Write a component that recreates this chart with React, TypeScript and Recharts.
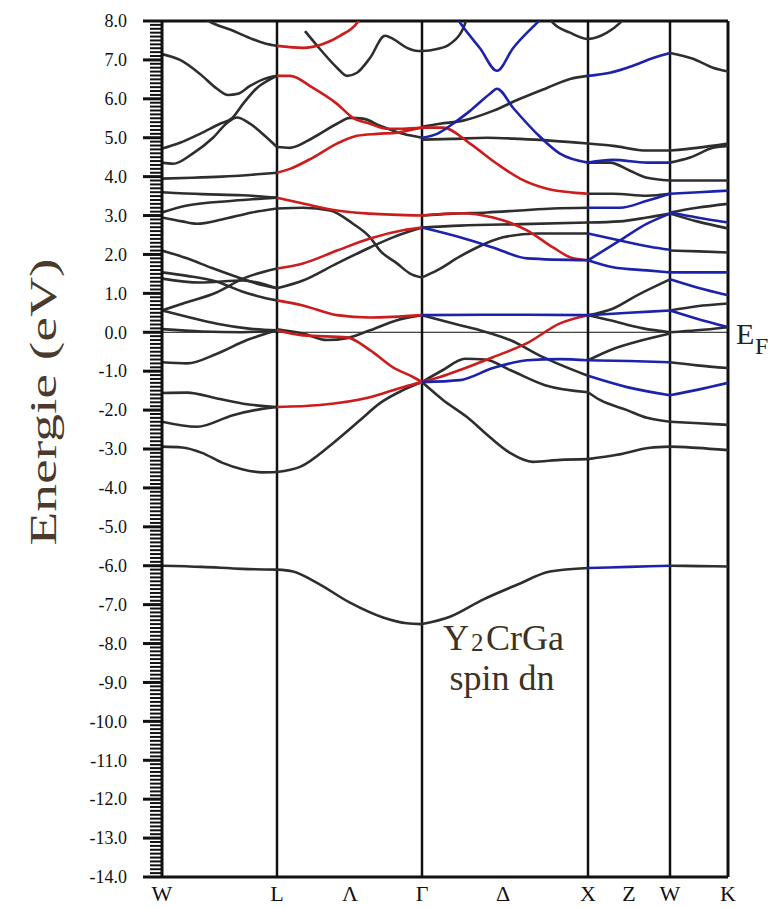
import { LineChart, Line, XAxis, YAxis, ReferenceLine } from 'recharts';

type Path = [number, number][];

// k positions (path length along W-L-Γ-X-W-K)
const symK = [115, 260, 426, 508];
const kTicks = [0, 115, 188, 260, 341, 426, 467, 508, 566];
const kLabels = ['W', 'L', 'Λ', 'Γ', 'Δ', 'X', 'Z', 'W', 'K'];

const eTicks: number[] = [];
for (let i = -140; i <= 80; i++) eTicks.push(i / 10);

// bands as [k, E(eV)]
const blackBands: Path[] = [
  // W -> L
  [[38, 8.15], [48, 7.98], [68, 7.78], [88, 7.56], [103, 7.42], [115, 7.36]],
  [[0, 7.15], [18, 7.0], [38, 6.64], [55, 6.26], [66, 6.1], [76, 6.13], [88, 6.33], [101, 6.5], [115, 6.59]],
  [[0, 4.72], [18, 4.87], [38, 5.1], [58, 5.36], [70, 5.5], [81, 5.87], [95, 6.28], [108, 6.5], [115, 6.59]],
  [[0, 4.36], [11, 4.33], [31, 4.6], [51, 5.0], [65, 5.38], [75, 5.52], [88, 5.36], [105, 5.0], [115, 4.76]],
  [[0, 3.95], [30, 3.97], [60, 4.0], [90, 4.05], [115, 4.1]],
  [[0, 3.6], [40, 3.55], [80, 3.52], [115, 3.46]],
  [[0, 3.08], [25, 3.26], [71, 3.38], [115, 3.46]],
  [[0, 2.95], [20, 2.85], [35, 2.79], [60, 2.9], [90, 3.08], [115, 3.18]],
  [[0, 2.1], [25, 1.9], [50, 1.65], [75, 1.42], [95, 1.25], [115, 1.13]],
  [[0, 1.54], [25, 1.45], [55, 1.3], [80, 1.05], [100, 0.9], [115, 0.82]],
  [[0, 1.38], [38, 1.28], [81, 1.33], [115, 1.13]],
  [[0, 0.56], [21, 0.74], [55, 1.03], [81, 1.38], [115, 1.64]],
  [[0, 0.56], [25, 0.4], [55, 0.22], [85, 0.1], [115, 0.05]],
  [[0, 0.08], [40, 0.02], [80, 0.0], [115, 0.05]],
  [[0, -0.77], [25, -0.8], [55, -0.55], [85, -0.2], [115, 0.05]],
  [[0, -1.56], [25, -1.55], [55, -1.7], [85, -1.85], [115, -1.92]],
  [[0, -2.3], [35, -2.43], [71, -2.13], [105, -1.95], [115, -1.92]],
  [[0, -2.94], [20, -2.96], [40, -3.1], [60, -3.35], [80, -3.52], [100, -3.6], [115, -3.59]],
  [[0, -6.0], [40, -6.03], [80, -6.08], [115, -6.1]],
  // L -> Γ
  [[143, 7.74], [158, 7.28], [175, 6.8], [185, 6.59], [195, 6.67], [208, 7.05], [223, 7.62], [231, 7.54], [245, 7.31], [256, 7.23], [260, 7.23], [275, 7.28], [288, 7.41], [301, 7.8], [306, 8.15]],
  [[115, 4.76], [128, 4.74], [151, 5.0], [175, 5.36], [188, 5.51], [201, 5.49], [218, 5.31], [241, 5.1], [260, 5.0]],
  [[115, 3.18], [141, 3.2], [168, 3.13], [191, 2.79], [208, 2.44], [218, 2.1], [235, 1.77], [248, 1.51], [260, 1.41]],
  [[115, 1.13], [141, 1.33], [175, 1.77], [208, 2.18], [231, 2.44], [260, 2.69]],
  [[115, 0.08], [141, -0.03], [165, -0.2], [185, -0.15], [208, 0.05], [235, 0.31], [260, 0.44]],
  [[115, -3.59], [138, -3.46], [171, -2.85], [198, -2.26], [218, -1.82], [240, -1.5], [260, -1.28]],
  [[115, -6.1], [131, -6.15], [155, -6.44], [188, -6.95], [221, -7.33], [245, -7.48], [260, -7.5]],
  // Γ -> X
  [[260, 5.28], [278, 5.36], [301, 5.44], [331, 5.69], [358, 6.0], [385, 6.28], [408, 6.51], [426, 6.59]],
  [[260, 4.95], [291, 4.97], [325, 5.0], [358, 4.97], [391, 4.92], [426, 4.85]],
  [[260, 3.0], [291, 3.05], [325, 3.08], [358, 3.13], [391, 3.18], [426, 3.2]],
  [[260, 2.69], [298, 2.74], [360, 2.78], [426, 2.82]],
  [[260, 1.41], [275, 1.59], [298, 1.95], [315, 2.18], [341, 2.44], [375, 2.54], [426, 2.54]],
  [[260, 0.44], [280, 0.3], [298, 0.18], [318, 0.05], [348, -0.2], [381, -0.64], [426, -1.12]],
  [[260, -1.28], [281, -0.97], [303, -0.68], [323, -0.7], [348, -0.97], [383, -1.36], [426, -1.54]],
  [[260, -1.28], [281, -1.74], [305, -2.18], [328, -2.7], [348, -3.1], [371, -3.33], [398, -3.28], [426, -3.26]],
  [[260, -7.5], [288, -7.31], [321, -6.87], [355, -6.49], [388, -6.15], [426, -6.06]],
  [[385, 8.15], [391, 7.95], [408, 7.7], [426, 7.54], [445, 7.7], [458, 7.95], [465, 8.15]],
  // X -> W
  [[426, 3.56], [451, 3.56], [485, 3.51], [508, 3.56]],
  [[426, 4.85], [451, 4.79], [485, 4.67], [508, 4.67]],
  [[426, 4.36], [448, 4.36], [468, 4.15], [485, 3.97], [508, 3.9]],
  [[426, 2.82], [458, 2.85], [485, 2.95], [508, 3.05]],
  [[426, 0.44], [450, 0.6], [475, 0.95], [508, 1.36]],
  [[426, 0.44], [448, 0.31], [481, 0.1], [508, 0.0]],
  [[426, -0.72], [448, -0.46], [481, -0.2], [508, -0.03]],
  [[426, -1.54], [438, -1.74], [465, -2.0], [485, -2.2], [508, -2.3]],
  [[426, -3.26], [455, -3.15], [488, -2.97], [508, -2.94]],
  // W -> K
  [[508, 7.18], [531, 7.03], [551, 6.8], [566, 6.7]],
  [[508, 4.67], [535, 4.74], [566, 4.85]],
  [[508, 4.36], [528, 4.49], [551, 4.74], [566, 4.79]],
  [[508, 3.9], [537, 3.9], [566, 3.9]],
  [[508, 3.08], [535, 3.2], [566, 3.3]],
  [[508, 3.05], [535, 2.85], [566, 2.67]],
  [[508, 2.1], [537, 2.08], [566, 2.05]],
  [[508, 0.56], [535, 0.67], [566, 0.74]],
  [[508, 0.0], [535, 0.05], [566, 0.13]],
  [[508, -0.77], [535, -0.85], [566, -0.92]],
  [[508, -2.3], [537, -2.34], [566, -2.38]],
  [[508, -2.94], [535, -2.97], [566, -3.03]],
  [[508, -6.0], [537, -6.01], [566, -6.02]],
];

const redBands: Path[] = [
  [[115, 7.36], [141, 7.31], [161, 7.41], [178, 7.62], [195, 7.95], [200, 8.15]],
  [[115, 6.59], [128, 6.59], [151, 6.28], [175, 5.87], [191, 5.51], [208, 5.36], [225, 5.23], [241, 5.23], [260, 5.26]],
  [[115, 4.1], [128, 4.2], [151, 4.49], [175, 4.85], [195, 5.05], [215, 5.1], [235, 5.13], [260, 5.26]],
  [[115, 3.46], [141, 3.31], [175, 3.13], [208, 3.05], [260, 3.0]],
  [[115, 1.64], [141, 1.77], [175, 2.1], [208, 2.41], [241, 2.62], [260, 2.69]],
  [[115, 0.82], [141, 0.69], [175, 0.44], [208, 0.38], [260, 0.44]],
  [[115, 0.05], [141, -0.08], [185, -0.13], [208, -0.46], [231, -0.9], [251, -1.15], [260, -1.28]],
  [[115, -1.92], [158, -1.87], [208, -1.67], [241, -1.41], [260, -1.28]],
  [[260, 5.26], [281, 5.26], [308, 4.85], [335, 4.33], [358, 3.95], [385, 3.69], [411, 3.59], [426, 3.56]],
  [[260, 3.0], [298, 3.06], [331, 2.95], [365, 2.62], [391, 2.18], [411, 1.9], [426, 1.85]],
  [[260, -1.28], [278, -1.15], [298, -0.97], [331, -0.64], [365, -0.28], [398, 0.23], [426, 0.44]],
];

const blueBands: Path[] = [
  [[293, 8.15], [301, 7.85], [318, 7.3], [335, 6.72], [351, 7.3], [375, 7.95], [383, 8.15]],
  [[260, 5.0], [275, 5.1], [291, 5.36], [308, 5.69], [328, 6.13], [335, 6.26], [351, 5.77], [375, 5.1], [398, 4.59], [426, 4.36]],
  [[260, 2.69], [298, 2.44], [331, 2.18], [365, 1.9], [426, 1.85]],
  [[260, 0.44], [343, 0.45], [426, 0.44]],
  [[260, -1.28], [298, -1.23], [331, -0.92], [365, -0.72], [398, -0.69], [426, -0.72]],
  [[426, 6.59], [448, 6.67], [471, 6.85], [491, 7.05], [508, 7.18]],
  [[426, 4.36], [451, 4.43], [485, 4.36], [508, 4.36]],
  [[426, 3.2], [458, 3.2], [485, 3.38], [508, 3.56]],
  [[426, 2.54], [458, 2.36], [488, 2.2], [508, 2.12]],
  [[426, 1.85], [458, 2.36], [485, 2.79], [508, 3.05]],
  [[426, 1.85], [451, 1.67], [485, 1.59], [508, 1.54]],
  [[426, 0.44], [467, 0.5], [508, 0.56]],
  [[426, -0.72], [467, -0.74], [508, -0.77]],
  [[426, -1.12], [465, -1.41], [508, -1.62]],
  [[426, -6.06], [467, -6.03], [508, -6.0]],
  [[508, 3.56], [537, 3.6], [566, 3.64]],
  [[508, 3.08], [535, 2.95], [566, 2.82]],
  [[508, 1.54], [537, 1.54], [566, 1.54]],
  [[508, 1.36], [535, 1.15], [566, 0.95]],
  [[508, 0.56], [535, 0.35], [566, 0.13]],
  [[508, -1.62], [535, -1.48], [566, -1.3]],
];

const serif = '"Liberation Serif", "Times New Roman", serif';
const toRows = (p: Path) => p.map(([k, e]) => ({ k, e }));

function ETick(props: any) {
  const { x, y, payload } = props;
  const v: number = payload.value;
  const major = Math.abs(v - Math.round(v)) < 1e-6;
  return (
    <g>
      <line x1={x - (major ? 19 : 12)} x2={x} y1={y} y2={y} stroke="#111" strokeWidth={major ? 3 : 2} />
      {major && (
        <text
          x={x - 35}
          y={y}
          dy="0.35em"
          textAnchor="end"
          fontSize={18}
          fontFamily={serif}
          fill="#111"
        >
          {v.toFixed(1)}
        </text>
      )}
    </g>
  );
}

function bandLines(paths: Path[], color: string, key: string) {
  return paths.map((p, i) => (
    <Line
      key={key + i}
      data={toRows(p)}
      dataKey="e"
      type="monotone"
      stroke={color}
      strokeWidth={2.6}
      dot={false}
      activeDot={false}
      isAnimationActive={false}
    />
  ));
}

export default function App() {
  return (
    <div style={{ position: 'absolute', left: 0, top: 0, width: 778, height: 908, background: '#fff' }}>
      <LineChart width={778} height={908} margin={{ top: 21, right: 50, bottom: 0, left: 0 }}>
        <XAxis
          type="number"
          dataKey="k"
          domain={[0, 566]}
          ticks={kTicks}
          interval={0}
          allowDataOverflow
          tickFormatter={(v: number) => kLabels[kTicks.indexOf(v)]}
          height={31}
          tickLine={false}
          tickSize={0}
          tickMargin={8}
          axisLine={{ stroke: '#111', strokeWidth: 3 }}
          tick={{ fill: '#111', fontSize: 22, fontFamily: serif }}
        />
        <YAxis
          type="number"
          domain={[-14, 8]}
          ticks={eTicks}
          interval={0}
          allowDataOverflow
          width={162}
          tickLine={false}
          tickSize={0}
          tickMargin={0}
          axisLine={{ stroke: '#111', strokeWidth: 3 }}
          tick={(p: any) => <ETick {...p} />}
        />
        <ReferenceLine y={0} stroke="#111" strokeWidth={1} />
        {symK.map((k) => (
          <ReferenceLine key={k} x={k} stroke="#111" strokeWidth={2.5} />
        ))}
        <ReferenceLine y={8} stroke="#111" strokeWidth={3} />
        <ReferenceLine x={566} stroke="#111" strokeWidth={3} />
        {bandLines(blackBands, '#2e2e2e', 'k')}
        {bandLines(redBands, '#cc1c1c', 'r')}
        {bandLines(blueBands, '#1c22ac', 'b')}
      </LineChart>
      <svg width={778} height={908} style={{ position: 'absolute', left: 0, top: 0, pointerEvents: 'none' }}>
        <text
          transform="translate(56,402) rotate(-90) scale(1.5,1)"
          textAnchor="middle"
          fontSize={37}
          fontFamily={serif}
          fill="#4b3a2c"
        >
          Energie (eV)
        </text>
        <text x={736} y={344} fontSize={30} fontFamily={serif} fill="#222">E</text>
        <text x={755} y={354} fontSize={24} fontFamily={serif} fill="#222">F</text>
        <text x={443} y={650} fontSize={36} fontFamily={serif} fill="#3d3226">Y</text>
        <text x={471} y={651} fontSize={25} fontFamily={serif} fill="#3d3226">2</text>
        <text x={486} y={650} fontSize={36} fontFamily={serif} fill="#3d3226">CrGa</text>
        <text x={502} y={690} textAnchor="middle" fontSize={36} fontFamily={serif} fill="#3d3226">
          spin dn
        </text>
      </svg>
    </div>
  );
}
